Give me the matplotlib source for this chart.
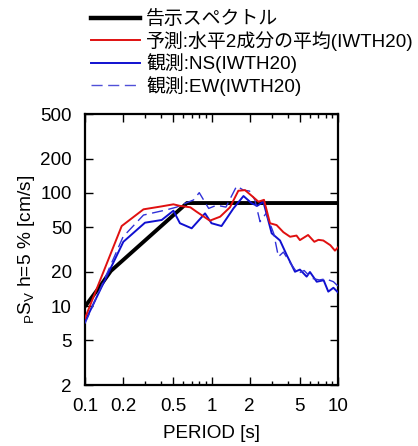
import matplotlib
matplotlib.use("Agg")
import matplotlib.pyplot as plt
from matplotlib.ticker import FixedLocator, NullFormatter, NullLocator
from matplotlib.lines import Line2D

plt.rcParams['font.family'] = ['Liberation Sans', 'Noto Sans CJK JP', 'DejaVu Sans']
plt.rcParams['mathtext.fontset'] = 'custom'
plt.rcParams['mathtext.rm'] = 'Liberation Sans'
plt.rcParams['mathtext.it'] = 'Liberation Sans'

# 告示スペクトル
code_T = [0.1, 0.13, 0.16, 0.64, 10.0]
code_V = [9.9, 14.7, 20.4, 81.5, 81.5]

# 予測: 水平2成分の平均
pred_T = [0.1, 0.195, 0.29, 0.40, 0.50, 0.56, 0.68, 0.76, 0.97, 1.17, 1.40, 1.63, 1.84,
          2.12, 2.35, 2.6, 2.9, 3.27, 3.7, 4.18, 4.7, 5.0, 5.8, 6.5, 7.0, 7.65, 8.7, 9.46, 10.0]
pred_V = [7.8, 51, 71.7, 76, 79.4, 77, 74.7, 68.4, 56.9, 61.7, 74.7, 104.7, 106,
          92.7, 83.7, 87, 54, 52, 45, 41, 42, 38.3, 42.5, 37, 38.5, 38, 34.5, 30.9, 33]

# 観測: NS
ns_T = [0.1, 0.201, 0.298, 0.404, 0.50, 0.563, 0.697, 0.889, 1.0, 1.2, 1.49, 1.79, 2.08,
        2.3, 2.57, 2.99, 3.48, 3.93, 4.57, 5.0, 5.65, 6.0, 6.79, 7.7, 8.38, 9.2, 10.0]
ns_V = [7.3, 37, 54.6, 57.7, 69.7, 54, 48.7, 66, 54, 51, 73, 94, 81,
        77, 83.7, 44, 38, 28.3, 20.1, 21, 18.2, 20, 16.4, 16.9, 13.4, 14.5, 13.2]

# 観測: EW
ew_T = [0.1, 0.2, 0.29, 0.44, 0.53, 0.62, 0.72, 0.80, 0.95, 1.1, 1.3, 1.58, 1.79, 2.0,
        2.2, 2.42, 2.7, 3.1, 3.38, 3.7, 4.2, 4.8, 5.4, 6.2, 7.1, 8.0, 9.2, 10.0]
ew_V = [7.0, 41, 63.8, 70.9, 75, 81, 86.7, 100.7, 73, 78, 75, 115, 106, 104,
        87, 55.7, 66, 44, 27.3, 30, 24, 19.4, 20.6, 17.6, 17, 17.4, 16.4, 15]

labels = ['告示スペクトル', '予測:水平2成分の平均(IWTH20)', '観測:NS(IWTH20)', '観測:EW(IWTH20)']

x_ticks = [0.1, 0.2, 0.5, 1, 2, 5, 10]
x_ticklabels = ['0.1', '0.2', '0.5', '1', '2', '5', '10']
y_ticks = [2, 5, 10, 20, 50, 100, 200, 500]
y_ticklabels = ['2', '5', '10', '20', '50', '100', '200', '500']

fig = plt.figure(figsize=(4.18, 4.46), dpi=100)
ax = fig.add_axes([85/418, 61/446, 253/418, 271/446])

ax.plot(code_T, code_V, color='black', lw=2.8, solid_capstyle='butt', zorder=3)
ax.plot(pred_T, pred_V, color='#e01010', lw=1.4, zorder=4)
ax.plot(ns_T, ns_V, color='#1010d0', lw=1.4, zorder=3)
ax.plot(ew_T, ew_V, color='#3030d8', lw=1.0, ls=(0, (8, 4)), zorder=3)

ax.set_xscale('log')
ax.set_yscale('log')
ax.set_xlim(0.1, 10)
ax.set_ylim(2, 500)

ax.xaxis.set_major_locator(FixedLocator(x_ticks))
ax.set_xticklabels(x_ticklabels)
minor_x = [0.3, 0.4, 0.6, 0.7, 0.8, 0.9, 3, 4, 6, 7, 8, 9]
ax.xaxis.set_minor_locator(FixedLocator(minor_x))
ax.xaxis.set_minor_formatter(NullFormatter())
ax.yaxis.set_major_locator(FixedLocator(y_ticks))
ax.set_yticklabels(y_ticklabels)
ax.yaxis.set_minor_locator(NullLocator())

ax.tick_params(which='both', direction='in', top=True, right=True, labelsize=13.6, width=1)
ax.tick_params(which='major', length=6)
ax.tick_params(which='minor', length=3)
ax.tick_params(axis='y', which='major', pad=9.5)
ax.tick_params(axis='x', which='major', pad=9.5)
for s in ax.spines.values():
    s.set_linewidth(1.6)

ax.set_xlabel('PERIOD [s]', fontsize=13.6, labelpad=7)
ax.set_ylabel(r'$_{\mathrm{P}}\mathrm{S}_{\mathrm{V}}$ h=5 % [cm/s]', fontsize=13.8, labelpad=2)

handles = [Line2D([], [], color='black', lw=3.2),
           Line2D([], [], color='#e01010', lw=1.4),
           Line2D([], [], color='#1010d0', lw=1.4),
           Line2D([], [], color='#5050d8', lw=1.0, ls=(0, (8, 4)))]
fig.legend(handles, labels, loc='upper left', bbox_to_anchor=(80/418, 1.0 + 1/446),
           frameon=False, handlelength=2.55, handletextpad=0.35,
           labelspacing=0.14, borderpad=0.1,
           prop={'family': ['Liberation Sans', 'Noto Sans CJK JP'], 'size': 13.6})

fig.savefig('out.png', dpi=100)
